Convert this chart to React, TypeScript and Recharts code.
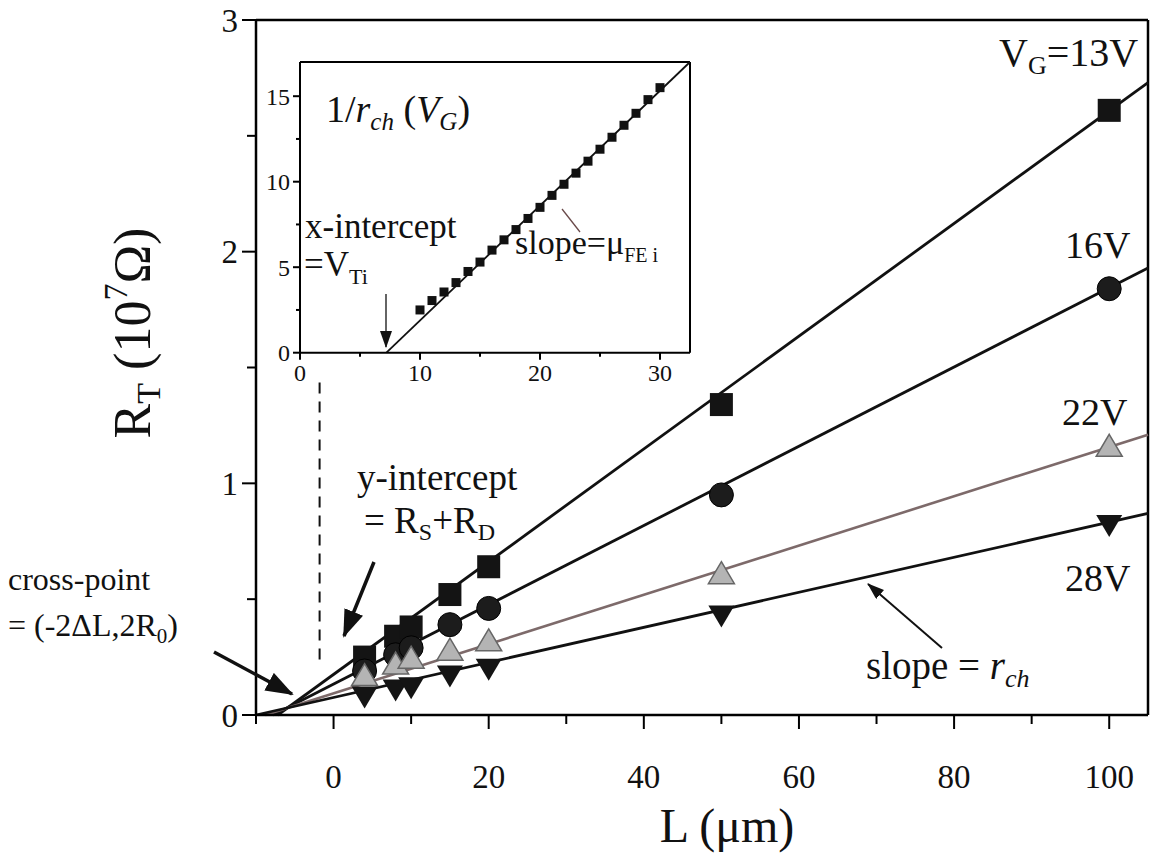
import React from 'react';
import { ComposedChart, Line, Scatter, XAxis, YAxis, ReferenceLine } from 'recharts';

const FONT = '"Liberation Serif", "DejaVu Serif", serif';

// ---- main chart data (L in µm, R_T in 10^7 Ω) ----
const lengths = [4, 8, 10, 15, 20, 50, 100];
const r13V = [0.25, 0.34, 0.38, 0.52, 0.64, 1.34, 2.61];
const r16V = [0.19, 0.26, 0.29, 0.39, 0.46, 0.95, 1.84];
const r22V = [0.17, 0.22, 0.245, 0.28, 0.32, 0.61, 1.16];
const r28V = [0.08, 0.11, 0.12, 0.17, 0.2, 0.43, 0.82];

// fitted straight lines (end points)
const fit13V = [{ L: -7.2, R: 0 }, { L: 105, R: 2.73 }];
const fit16V = [{ L: -7.8, R: 0 }, { L: 105, R: 1.93 }];
const fit22V = [{ L: -8.8, R: 0 }, { L: 105, R: 1.21 }];
const fit28V = [{ L: -10, R: 0.0 }, { L: 105, R: 0.87 }];

const xTicks = [-10, 0, 10, 20, 30, 40, 50, 60, 70, 80, 90, 100];
const xLabelTicks = [0, 20, 40, 60, 80, 100];
const yTicks = [0, 0.5, 1, 1.5, 2, 2.5, 3];
const yLabelTicks = [0, 1, 2, 3];

// ---- inset data: 1/r_ch vs V_G ----
const gateVoltages = [10, 11, 12, 13, 14, 15, 16, 17, 18, 19, 20, 21, 22, 23, 24, 25, 26, 27, 28, 29, 30];
const invRch = [2.5, 3.05, 3.55, 4.1, 4.75, 5.3, 6.0, 6.6, 7.2, 7.85, 8.5, 9.2, 9.85, 10.5, 11.2, 11.9, 12.6, 13.3, 14.0, 14.8, 15.5];
const insetFit = [{ V: 7.2, y: 0 }, { V: 32.5, y: 17 }];
const insetXTicks = [0, 5, 10, 15, 20, 25, 30];
const insetXLabelTicks = [0, 10, 20, 30];
const insetYTicks = [0, 2.5, 5, 7.5, 10, 12.5, 15];
const insetYLabelTicks = [0, 5, 10, 15];

const toPts = (ys: number[]) => lengths.map((L, i) => ({ L, R: ys[i] }));
const pts13 = toPts(r13V);
const pts16 = toPts(r16V);
const pts22 = toPts(r22V);
const pts28 = toPts(r28V);
const insetPts = gateVoltages.map((V, i) => ({ V, y: invRch[i] }));

const Square = (p: any) => <rect x={p.cx - 11.5} y={p.cy - 11.5} width={23} height={23} fill="#141414" />;
const Dot = (p: any) => <circle cx={p.cx} cy={p.cy} r={12} fill="#1c1c1c" stroke="#000" strokeWidth={1} />;
const TriUp = (p: any) => (
  <polygon
    points={`${p.cx},${p.cy - 12} ${p.cx + 13},${p.cy + 10} ${p.cx - 13},${p.cy + 10}`}
    fill="#b4b4b4"
    stroke="#666"
    strokeWidth={1.5}
  />
);
const TriDown = (p: any) => (
  <polygon points={`${p.cx - 13},${p.cy - 10} ${p.cx + 13},${p.cy - 10} ${p.cx},${p.cy + 12}`} fill="#141414" />
);
const SmallSquare = (p: any) => <rect x={p.cx - 4.5} y={p.cy - 4.5} width={9} height={9} fill="#111" />;

const makeXTick = (labels: number[], major: number, minor: number, fs: number, off: number) => (props: any) => {
  const { x, y, payload } = props;
  const isMajor = labels.includes(payload.value);
  return (
    <g>
      <line x1={x} x2={x} y1={y} y2={y + (isMajor ? major : minor)} stroke="#000" strokeWidth={2} />
      {isMajor && (
        <text x={x} y={y + off} textAnchor="middle" fontFamily={FONT} fontSize={fs} fill="#111">
          {payload.value}
        </text>
      )}
    </g>
  );
};
const makeYTick = (labels: number[], major: number, minor: number, fs: number, off: number) => (props: any) => {
  const { x, y, payload } = props;
  const isMajor = labels.includes(payload.value);
  return (
    <g>
      <line x1={x} x2={x - (isMajor ? major : minor)} y1={y} y2={y} stroke="#000" strokeWidth={2} />
      {isMajor && (
        <text x={x - off} y={y} dy="0.35em" textAnchor="end" fontFamily={FONT} fontSize={fs} fill="#111">
          {payload.value}
        </text>
      )}
    </g>
  );
};

const MainXTick = makeXTick(xLabelTicks, 14, 9, 33, 73);
const MainYTick = makeYTick(yLabelTicks, 14, 9, 33, 18);
const InsetXTick = makeXTick(insetXLabelTicks, 7, 4, 24, 28);
const InsetYTick = makeYTick(insetYLabelTicks, 7, 4, 24, 10);

export default function App() {
  return (
    <div style={{ position: 'absolute', left: 0, top: 0, width: 1153, height: 858, background: '#fff' }}>
      <div style={{ position: 'absolute', left: 0, top: 0 }}>
        <ComposedChart width={1153} height={858} margin={{ top: 20, right: 5, bottom: 83, left: 0 }}>
          <XAxis
            type="number"
            dataKey="L"
            domain={[-10, 105]}
            ticks={xTicks}
            interval={0}
            height={60}
            tickSize={0}
            tickMargin={0}
            tickLine={false}
            tick={MainXTick}
            axisLine={{ stroke: '#000', strokeWidth: 2.5 }}
          />
          <YAxis
            type="number"
            dataKey="R"
            domain={[0, 3]}
            ticks={yTicks}
            interval={0}
            width={256}
            tickSize={0}
            tickMargin={0}
            tickLine={false}
            tick={MainYTick}
            axisLine={{ stroke: '#000', strokeWidth: 2.5 }}
          />
          <ReferenceLine y={3} stroke="#000" strokeWidth={2.5} />
          <ReferenceLine x={105} stroke="#000" strokeWidth={2.5} />
          <ReferenceLine
            segment={[{ x: -1.8, y: 0.24 }, { x: -1.8, y: 1.46 }]}
            stroke="#111"
            strokeWidth={2}
            strokeDasharray="11 8"
          />
          <Line data={fit13V} dataKey="R" type="linear" stroke="#111" strokeWidth={2.8} dot={false} isAnimationActive={false} />
          <Line data={fit16V} dataKey="R" type="linear" stroke="#111" strokeWidth={2.8} dot={false} isAnimationActive={false} />
          <Line data={fit22V} dataKey="R" type="linear" stroke="#7d6a6a" strokeWidth={2.6} dot={false} isAnimationActive={false} />
          <Line data={fit28V} dataKey="R" type="linear" stroke="#111" strokeWidth={2.8} dot={false} isAnimationActive={false} />
          <Scatter data={pts13} dataKey="R" shape={Square} isAnimationActive={false} />
          <Scatter data={pts16} dataKey="R" shape={Dot} isAnimationActive={false} />
          <Scatter data={pts28} dataKey="R" shape={TriDown} isAnimationActive={false} />
          <Scatter data={pts22} dataKey="R" shape={TriUp} isAnimationActive={false} />
        </ComposedChart>
      </div>

      <div style={{ position: 'absolute', left: 220, top: 30 }}>
        <ComposedChart width={480} height={370} margin={{ top: 32, right: 10, bottom: 7.3, left: 0 }}>
          <XAxis
            type="number"
            dataKey="V"
            domain={[0, 32.5]}
            ticks={insetXTicks}
            interval={0}
            height={40}
            tickSize={0}
            tickMargin={0}
            tickLine={false}
            tick={InsetXTick}
            axisLine={{ stroke: '#000', strokeWidth: 2 }}
          />
          <YAxis
            type="number"
            dataKey="y"
            domain={[0, 17]}
            ticks={insetYTicks}
            interval={0}
            width={80}
            tickSize={0}
            tickMargin={0}
            tickLine={false}
            tick={InsetYTick}
            axisLine={{ stroke: '#000', strokeWidth: 2 }}
          />
          <ReferenceLine y={17} stroke="#000" strokeWidth={2} />
          <ReferenceLine x={32.5} stroke="#000" strokeWidth={2} />
          <Line data={insetFit} dataKey="y" type="linear" stroke="#111" strokeWidth={1.8} dot={false} isAnimationActive={false} />
          <Scatter data={insetPts} dataKey="y" shape={SmallSquare} isAnimationActive={false} />
        </ComposedChart>
      </div>

      <svg
        width={1153}
        height={858}
        style={{ position: 'absolute', left: 0, top: 0, pointerEvents: 'none' }}
        fontFamily={FONT}
        fill="#111"
      >
        <defs>
          <marker id="bigHead" markerUnits="userSpaceOnUse" markerWidth="30" markerHeight="24" refX="26" refY="10" orient="auto">
            <polygon points="0,0 28,10 0,20" fill="#111" />
          </marker>
          <marker id="thinHead" markerUnits="userSpaceOnUse" markerWidth="18" markerHeight="14" refX="16" refY="6" orient="auto">
            <polygon points="0,0 17,6 0,12" fill="#111" />
          </marker>
        </defs>

        {/* axis titles */}
        <text transform="translate(150,333) rotate(-90)" textAnchor="middle" fontSize={52}>
          R<tspan fontSize={34} dy={10}>T</tspan>
          <tspan dy={-10}> (10</tspan>
          <tspan fontSize={34} dy={-23}>7</tspan>
          <tspan dy={23}>Ω)</tspan>
        </text>
        <text x={727} y={842} textAnchor="middle" fontSize={48}>L (μm)</text>

        {/* series labels */}
        <text x={999} y={66} fontSize={40}>
          V<tspan fontSize={26} dy={8}>G</tspan>
          <tspan dy={-8}>=13V</tspan>
        </text>
        <text x={1065} y={258} fontSize={38}>16V</text>
        <text x={1062} y={425} fontSize={38}>22V</text>
        <text x={1065} y={591} fontSize={38}>28V</text>

        {/* slope = r_ch */}
        <text x={866} y={679} fontSize={39}>
          slope = <tspan fontStyle="italic">r</tspan>
          <tspan fontStyle="italic" fontSize={26} dy={8}>ch</tspan>
        </text>
        <line x1={942} y1={648} x2={868} y2={584} stroke="#111" strokeWidth={2} markerEnd="url(#thinHead)" />

        {/* y-intercept */}
        <text x={357} y={490} fontSize={37}>y-intercept</text>
        <text x={364} y={533} fontSize={37}>
          = R<tspan fontSize={24} dy={7}>S</tspan>
          <tspan dy={-7}>+R</tspan>
          <tspan fontSize={24} dy={7}>D</tspan>
        </text>
        <line x1={374} y1={562} x2={344} y2={636} stroke="#111" strokeWidth={3.5} markerEnd="url(#bigHead)" />

        {/* cross-point */}
        <text x={8} y={590} fontSize={32}>cross-point</text>
        <text x={8} y={636} fontSize={32}>
          = (-2ΔL,2R<tspan fontSize={21} dy={7}>0</tspan>
          <tspan dy={-7}>)</tspan>
        </text>
        <line x1={214} y1={652} x2={292} y2={694} stroke="#111" strokeWidth={3.5} markerEnd="url(#bigHead)" />

        {/* inset annotations */}
        <text x={326} y={122} fontSize={38}>
          1/<tspan fontStyle="italic">r</tspan>
          <tspan fontStyle="italic" fontSize={25} dy={8}>ch</tspan>
          <tspan dy={-8}> (</tspan>
          <tspan fontStyle="italic">V</tspan>
          <tspan fontStyle="italic" fontSize={25} dy={8}>G</tspan>
          <tspan dy={-8}>)</tspan>
        </text>
        <text x={305} y={238} fontSize={35}>x-intercept</text>
        <text x={304} y={276} fontSize={35}>
          =V<tspan fontSize={22} dy={8}>Ti</tspan>
        </text>
        <line x1={386} y1={294} x2={386} y2={347} stroke="#111" strokeWidth={1.3} markerEnd="url(#thinHead)" />
        <text x={515} y={254} fontSize={34}>
          slope=μ<tspan fontSize={20} dy={8}>FE i</tspan>
        </text>
        <line x1={580} y1={232} x2={562} y2={209} stroke="#6a4a4a" strokeWidth={1.3} />
      </svg>
    </div>
  );
}
